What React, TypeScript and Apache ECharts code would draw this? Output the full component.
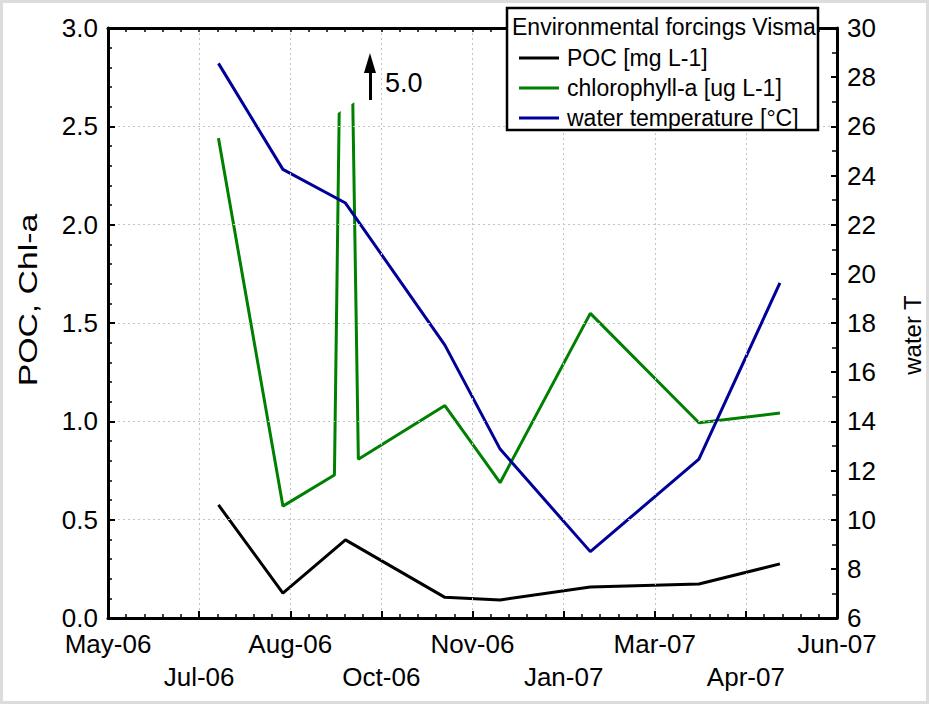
import React, { useEffect, useRef } from "react";
import * as echarts from "echarts";

// ---- axis definition ----
const AXIS_START = "2006-05-15";
const AXIS_DAYS = 396;
const TICK_STEP = 49.5;
const xTickLabels = ["May-06", "Jul-06", "Aug-06", "Oct-06", "Nov-06", "Jan-07", "Mar-07", "Apr-07", "Jun-07"];

// ---- series data ----
const pocDates = ["2006-07-14", "2006-08-18", "2006-09-21", "2006-11-14", "2006-12-14", "2007-02-01", "2007-04-01", "2007-05-15"];
const pocValues = [0.575, 0.127, 0.397, 0.105, 0.092, 0.158, 0.173, 0.275];

const chlDates = ["2006-07-14", "2006-08-18", "2006-09-15", "2006-09-21", "2006-09-28", "2006-11-14", "2006-12-14", "2007-02-01", "2007-04-01", "2007-05-15"];
const chlValues = [2.44, 0.569, 0.727, 5.0, 0.807, 1.08, 0.688, 1.549, 0.993, 1.042];

const tempDates = ["2006-07-14", "2006-08-18", "2006-09-21", "2006-11-14", "2006-12-14", "2007-02-01", "2007-04-01", "2007-05-15"];
const tempValues = [28.56, 24.25, 22.88, 17.1, 12.87, 8.7, 12.46, 19.63];

// off-scale annotation
const offScaleLabel = "5.0";

const FONT = "'Liberation Sans', Arial, sans-serif";

function dayOf(d: string): number {
  return (Date.parse(d) - Date.parse(AXIS_START)) / 86400000;
}

function pairs(dates: string[], values: number[]) {
  return dates.map((d, i) => [dayOf(d), values[i]]);
}

function tickIndex(v: number) {
  return Math.round(v / TICK_STEP);
}

export default function App() {
  const ref = useRef<HTMLDivElement>(null);

  useEffect(() => {
    if (!ref.current) return;
    const chart = echarts.init(ref.current, undefined, { renderer: "svg" });

    const gridLine = { show: true, lineStyle: { color: "#c4c4c4", type: [2, 3] as any, width: 1 } };
    const xLabelBase = {
      show: true,
      interval: 0,
      showMinLabel: true,
      showMaxLabel: true,
      fontFamily: FONT,
      fontSize: 26,
      lineHeight: 22,
      color: "#000",
    };

    const option: any = {
      animation: false,
      backgroundColor: "#fff",
      textStyle: { fontFamily: FONT, color: "#000" },
      grid: { left: 108, right: 92, top: 28, bottom: 86, containLabel: false },
      legend: {
        data: ["POC [mg L-1]", "chlorophyll-a [ug L-1]", "water temperature [°C]"],
        orient: "vertical",
        left: 514,
        top: 41,
        itemWidth: 40,
        itemHeight: 3,
        itemGap: 6,
        icon: "rect",
        selectedMode: false,
        textStyle: { fontFamily: FONT, fontSize: 23, color: "#000", lineHeight: 24, padding: [0, 0, 0, 3] },
        z: 20,
      },
      xAxis: [
        {
          type: "value",
          min: 0,
          max: AXIS_DAYS,
          interval: TICK_STEP,
          z: 10,
          axisLine: { show: true, onZero: false, lineStyle: { color: "#000", width: 3 } },
          axisTick: { show: true, inside: true, length: 7, lineStyle: { color: "#000", width: 2 } },
          minorTick: { show: true, splitNumber: 5, length: 4, lineStyle: { color: "#000", width: 1.5 } },
          splitLine: gridLine,
          axisLabel: {
            ...xLabelBase,
            margin: 15,
            formatter: (v: number) => {
              const i = tickIndex(v);
              return i % 2 === 0 ? xTickLabels[i] ?? "" : "";
            },
          },
        },
        {
          type: "value",
          position: "top",
          min: 0,
          max: AXIS_DAYS,
          interval: TICK_STEP,
          z: 10,
          axisLine: { show: true, onZero: false, lineStyle: { color: "#000", width: 3 } },
          axisTick: { show: true, inside: true, length: 4, lineStyle: { color: "#000", width: 1.5 } },
          minorTick: { show: true, splitNumber: 5, length: 4, lineStyle: { color: "#000", width: 1.5 } },
          splitLine: { show: false },
          axisLabel: { show: false },
        },
        {
          type: "value",
          position: "bottom",
          min: 0,
          max: AXIS_DAYS,
          interval: TICK_STEP,
          axisLine: { show: false, onZero: false },
          axisTick: { show: false },
          splitLine: { show: false },
          axisLabel: {
            ...xLabelBase,
            margin: 48,
            formatter: (v: number) => {
              const i = tickIndex(v);
              return i % 2 === 1 ? xTickLabels[i] ?? "" : "";
            },
          },
        },
      ],
      yAxis: [
        {
          type: "value",
          min: 0,
          max: 3,
          interval: 0.5,
          z: 10,
          axisLine: { show: true, onZero: false, lineStyle: { color: "#000", width: 3 } },
          axisTick: { show: true, inside: true, length: 7, lineStyle: { color: "#000", width: 2 } },
          minorTick: { show: true, splitNumber: 5, length: 4, lineStyle: { color: "#000", width: 1.5 } },
          splitLine: gridLine,
          axisLabel: { fontFamily: FONT, fontSize: 26, lineHeight: 20, color: "#000", margin: 10, formatter: (v: number) => v.toFixed(1) },
        },
        {
          type: "value",
          position: "right",
          min: 6,
          max: 30,
          interval: 2,
          z: 10,
          axisLine: { show: true, onZero: false, lineStyle: { color: "#000", width: 3 } },
          axisTick: { show: true, inside: true, length: 6, lineStyle: { color: "#000", width: 2 } },
          minorTick: { show: true, splitNumber: 2, length: 5, lineStyle: { color: "#000", width: 1.5 } },
          splitLine: { show: false },
          axisLabel: { fontFamily: FONT, fontSize: 26, lineHeight: 20, color: "#000", margin: 10 },
        },
      ],
      series: [
        {
          name: "POC [mg L-1]",
          type: "line",
          xAxisIndex: 0,
          yAxisIndex: 0,
          data: pairs(pocDates, pocValues),
          symbol: "none",
          lineStyle: { color: "#000000", width: 3 },
          itemStyle: { color: "#000000" },
          z: 3,
        },
        {
          name: "chlorophyll-a [ug L-1]",
          type: "line",
          xAxisIndex: 0,
          yAxisIndex: 0,
          data: pairs(chlDates, chlValues),
          symbol: "none",
          clip: true,
          lineStyle: { color: "#008000", width: 3 },
          itemStyle: { color: "#008000" },
          z: 3,
          markLine: {
            silent: true,
            symbol: ["none", "triangle"],
            symbolSize: [12, 20],
            label: { show: false },
            lineStyle: { color: "#000", width: 3, type: "solid" },
            data: [[{ coord: [142.3, 2.634] }, { coord: [142.3, 2.822] }]],
            z: 10,
          },
          markPoint: {
            silent: true,
            symbol: "rect",
            symbolSize: 0,
            label: {
              show: true,
              position: "right",
              distance: 0,
              formatter: offScaleLabel,
              fontFamily: FONT,
              fontSize: 27,
              color: "#000",
            },
            data: [{ coord: [150.5, 2.72] }],
            z: 10,
          },
        },
        {
          name: "water temperature [°C]",
          type: "line",
          xAxisIndex: 0,
          yAxisIndex: 1,
          data: pairs(tempDates, tempValues),
          symbol: "none",
          lineStyle: { color: "#000099", width: 3 },
          itemStyle: { color: "#000099" },
          z: 3,
        },
        {
          // white mask that truncates the off-scale chlorophyll spike below the arrow
          name: "mask",
          type: "custom",
          xAxisIndex: 0,
          yAxisIndex: 0,
          silent: true,
          clip: false,
          z: 5,
          data: [[123.85, 2.562, 135.26, 2.631]],
          renderItem: (_p: any, api: any) => {
            const a = [api.value(0), api.value(1)];
            const b = [api.value(2), api.value(3)];
            const pts = [
              api.coord(a),
              api.coord(b),
              api.coord([b[0], 3.03]),
              api.coord([a[0], 3.03]),
            ];
            return { type: "polygon", shape: { points: pts }, style: { fill: "#ffffff", stroke: "none" } };
          },
        },
      ],
      graphic: [
        {
          type: "rect",
          z: 15,
          shape: { x: 1.5, y: 1.5, width: 926, height: 701 },
          style: { fill: "none", stroke: "#dcdcdc", lineWidth: 3 },
        },
        {
          type: "rect",
          z: 15,
          shape: { x: 507, y: 8, width: 311, height: 122 },
          style: { fill: "#ffffff", stroke: "#000", lineWidth: 2.5 },
        },
        {
          type: "text",
          z: 16,
          x: 512,
          y: 27,
          style: { text: "Environmental forcings Visma", font: `23px ${FONT}`, fill: "#000", verticalAlign: "middle" },
        },
        {
          type: "text",
          z: 16,
          x: 28,
          y: 300,
          rotation: Math.PI / 2,
          scaleX: 1.3,
          style: { text: "POC, Chl-a", font: `26px ${FONT}`, fill: "#000", align: "center", verticalAlign: "middle" },
        },
        {
          type: "text",
          z: 16,
          x: 912,
          y: 335,
          rotation: Math.PI / 2,
          style: { text: "water T", font: `24px ${FONT}`, fill: "#000", align: "center", verticalAlign: "middle" },
        },
      ],
    };

    chart.setOption(option);
    return () => chart.dispose();
  }, []);

  return (
    <div
      ref={ref}
      style={{ position: "absolute", left: 0, top: 0, width: 929, height: 704, background: "#fff" }}
    />
  );
}
